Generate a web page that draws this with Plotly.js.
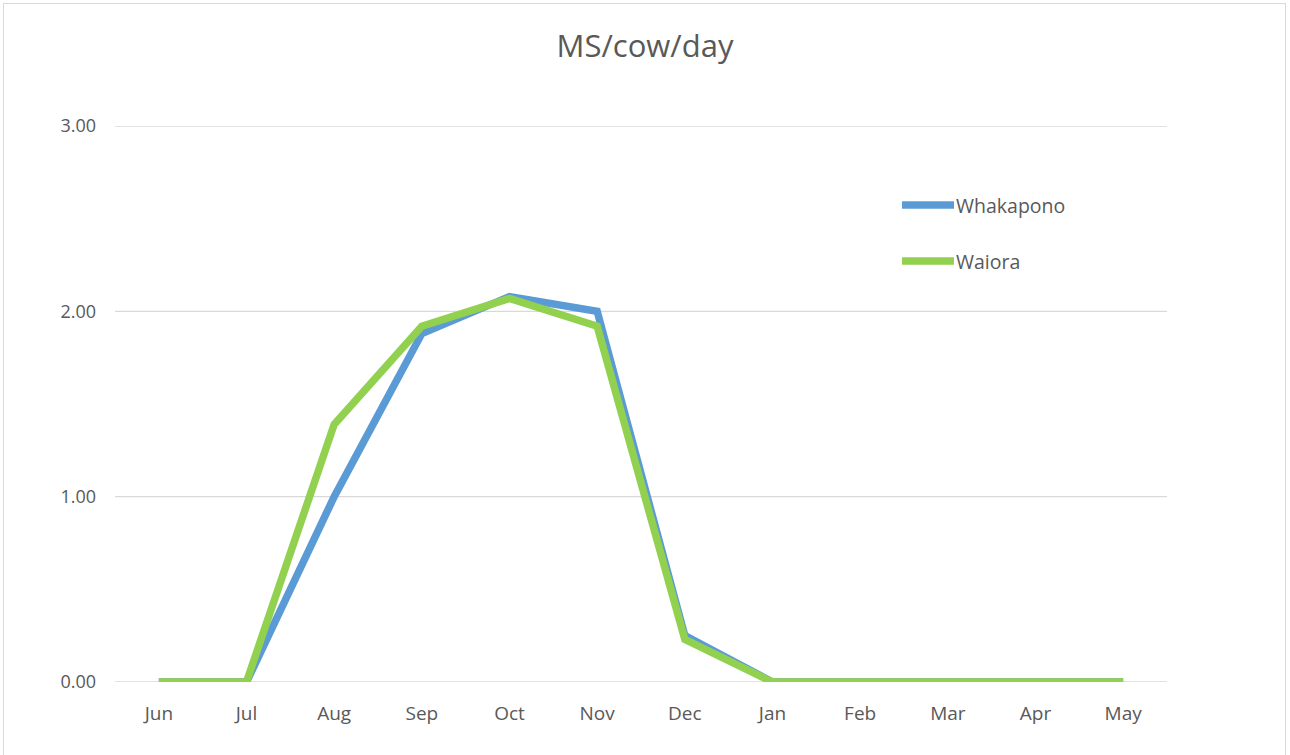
<!DOCTYPE html>
<html>
<head>
<meta charset="utf-8">
<script src="https://cdn.plot.ly/plotly-3.0.1.min.js"></script>
<style>
html,body{margin:0;padding:0;background:#fff;overflow:hidden;}
#frame{position:absolute;left:3px;top:3px;width:1283px;height:760px;border:1px solid #d9d9d9;box-sizing:border-box;pointer-events:none;z-index:5;}
#chart{position:absolute;left:0;top:0;width:1290px;height:755px;}
</style>
</head>
<body>
<div id="chart"></div>
<div id="frame"></div>
<script>
var months = ["Jun","Jul","Aug","Sep","Oct","Nov","Dec","Jan","Feb","Mar","Apr","May"];
var whakapono = [0, 0, 1.00, 1.88, 2.08, 2.00, 0.25, 0, 0, 0, 0, 0];
var waiora = [0, 0, 1.39, 1.92, 2.07, 1.92, 0.23, 0, 0, 0, 0, 0];
var yTicks = [0, 1, 2, 3];
var yTickText = ["0.00", "1.00", "2.00", "3.00"];
var seriesNames = ["Whakapono", "Waiora"];
var colors = ["#5B9BD5", "#92D050"];

var font = "Open Sans, Liberation Sans, sans-serif";

var traces = [
  {x: months, y: whakapono, name: seriesNames[0], type: "scatter", mode: "lines",
   line: {color: colors[0], width: 7.5}, showlegend: false, cliponaxis: false},
  {x: months, y: waiora, name: seriesNames[1], type: "scatter", mode: "lines",
   line: {color: colors[1], width: 7.5}, showlegend: false, cliponaxis: false}
];

var shapes = [], annotations = [];
// horizontal gridlines at each y tick
yTicks.forEach(function (v) {
  shapes.push({type: "line", layer: "below", xref: "paper", yref: "y", x0: 0, x1: 1, y0: v, y1: v,
    line: {color: "#d9d9d9", width: 1.3}});
});
// manual legend (symbols + labels) placed in paper coords
var legX0 = (902 - 115) / 1052, legX1 = (954 - 115) / 1052;
var legY = [(682 - 205) / 556, (682 - 261) / 556];
for (var i = 0; i < seriesNames.length; i++) {
  shapes.push({type: "line", xref: "paper", yref: "paper", x0: legX0, x1: legX1, y0: legY[i], y1: legY[i],
    line: {color: colors[i], width: 7.5}});
  annotations.push({xref: "paper", yref: "paper", x: legX1, y: legY[i], xanchor: "left", yanchor: "middle",
    text: seriesNames[i], showarrow: false, font: {family: font, size: 19.5, color: "#595959"}});
}

var layout = {
  width: 1290, height: 755,
  margin: {l: 115, r: 123, t: 126, b: 73},
  paper_bgcolor: "#fff", plot_bgcolor: "#fff",
  title: {text: "MS/cow/day", x: 0.5, xanchor: "center", y: 1 - 46/755, yanchor: "middle",
    font: {family: font, size: 31, color: "#595959"}},
  xaxis: {type: "category", range: [-0.5, 11.5], showgrid: false, zeroline: false,
    showline: false, ticks: "", ticklabelstandoff: 18,
    tickfont: {family: font, size: 19, color: "#595959"}, fixedrange: true},
  yaxis: {range: [0, 3], tickvals: yTicks, ticktext: yTickText, showgrid: false,
    zeroline: false, showline: false, ticks: "", ticklabelstandoff: 18,
    tickfont: {family: font, size: 18, color: "#595959"}, fixedrange: true},
  shapes: shapes,
  annotations: annotations,
  showlegend: false
};

Plotly.newPlot("chart", traces, layout, {displayModeBar: false, staticPlot: true});
</script>
</body>
</html>
